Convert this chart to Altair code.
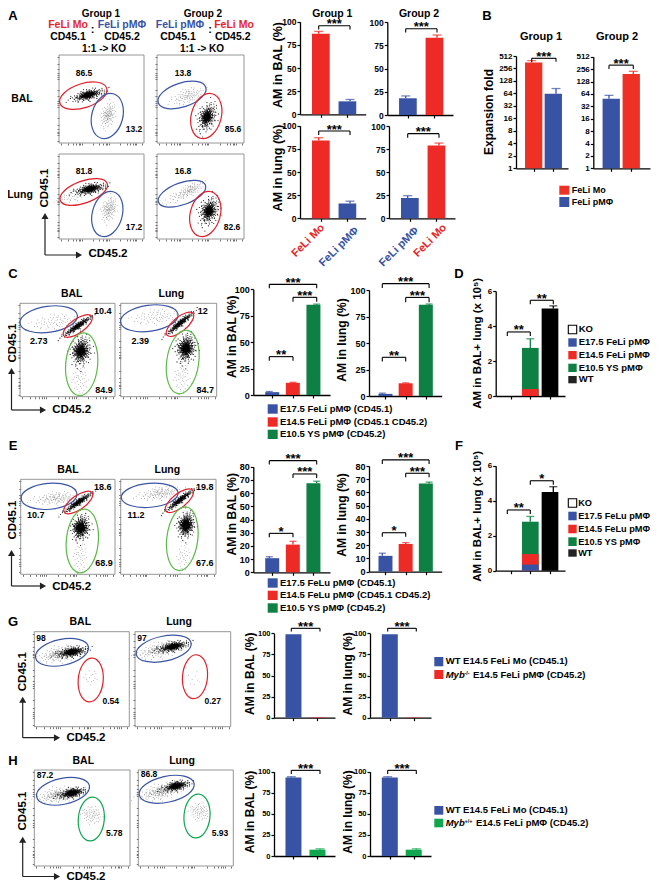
import math
import altair as alt

W, H, M = 643, 878, 8
FONT = "Liberation Sans"
RED, BLUE, GREEN, LGREEN, BLACK = "#EE2A26", "#3953A4", "#0F8044", "#10A650", "#000000"
TXT_RED, EGREEN, EBLUE = "#E8262A", "#5CB947", "#3B55A5"
ERED = "#E2202A"

# ---- bar values (mean, top of error bar)
A_BAL_1, A_BAL_1_E = [87, 14], [89.5, 16]
A_BAL_2, A_BAL_2_E = [18, 83], [20.5, 86]
A_LUNG_1, A_LUNG_1_E = [84, 16], [87, 18.5]
A_LUNG_2, A_LUNG_2_E = [22, 79], [24.5, 81.5]
B_1, B_1_E = [355, 63], [396, 84]
B_2, B_2_E = [49, 195], [59, 226]
C_BAL, C_BAL_E = [2.7, 11.5, 85.5], [3.3, 12, 86]
C_LUNG, C_LUNG_E = [2, 12, 86], [2.7, 12.4, 86.8]
E_BAL, E_BAL_E = [10.7, 21, 67.5], [11.8, 23.5, 69]
E_LUNG, E_LUNG_E = [12, 21, 66.8], [14, 22, 67.8]
G_BAL, G_LUNG = [99, 0.5], [99, 0.4]
H_BAL, H_BAL_E = [93, 7.5], [94, 8.5]
H_LUNG, H_LUNG_E = [93, 7.5], [94, 8.5]
D_RED, D_GREEN, D_GREEN_E, D_WT, D_WT_E = 0.4, 2.75, 3.27, 5.0, 5.15
F_BLUE, F_RED, F_GREEN, F_GREEN_E, F_WT, F_WT_E = 0.35, 0.95, 2.8, 3.1, 4.5, 4.8

TICKS_100 = [0, 25, 50, 75, 100]
TICKS_80 = [0, 10, 20, 30, 40, 50, 60, 70, 80]
TICKS_LOG = [1, 2, 4, 8, 16, 32, 64, 128, 256, 512]
TICKS_6 = [0, 2, 4, 6]

# hand-placed event pattern used for the flow-cytometry clouds
CLOUD = [(-0.3,0.2),(0.5,-0.4),(1.1,0.3),(-1.2,-0.5),(0.2,1.0),(-0.7,0.9),(0.9,-1.1),(1.6,0.6),(-1.7,0.1),(0.1,-0.2),
(-0.4,-1.2),(0.7,0.7),(-1.0,0.5),(1.3,-0.6),(-0.1,1.6),(0.4,0.3),(-0.6,-0.3),(0.0,-1.7),(2.0,-0.2),(-2.1,-0.4),
(0.8,0.1),(-0.2,-0.7),(1.0,1.2),(-1.3,1.1),(0.3,-0.9),(-0.9,-0.9),(0.6,1.4),(1.8,-0.9),(-1.6,0.8),(0.15,0.55),
(-0.45,0.6),(0.55,-0.8),(1.4,0.1),(-1.45,-0.1),(-0.05,0.15),(0.25,-0.45),(-0.8,0.15),(0.95,0.45),(-0.25,1.25),(0.35,-1.4),
(1.15,-0.25),(-1.1,-1.2),(1.55,1.05),(-1.9,0.75),(2.3,0.4),(-2.4,-0.1),(0.05,2.1),(-0.35,-2.0),(0.75,-1.7),(-0.85,1.6),
(0.45,0.85),(-0.55,-0.65),(0.65,-0.15),(-0.15,0.4),(1.25,0.8),(-1.25,0.25),(0.2,-1.1),(-0.65,1.25),(1.75,-0.35),(-1.55,-0.8),
(0.1,0.75),(-0.3,-0.35),(0.85,-0.6),(-0.95,-0.15),(0.35,1.25),(-0.1,-1.0),(1.05,-1.45),(-1.35,1.45),(0.6,0.35),(-0.5,0.1),
(2.6,-0.6),(-2.7,0.5),(1.9,0.9),(-2.0,-1.0),(0.9,1.75),(-0.7,-1.55),(0.0,0.0),(0.3,0.1),(-0.2,-0.15),(0.15,-0.6)]
SHRINK = [1.0, 0.72, 0.52, 0.38, 0.26, 0.6, 0.45, 0.32]
SIGNS = [(1, 1), (-1, 1), (1, -1), (-1, -1), (1, 1), (-1, 1), (1, -1), (-1, -1)]

ONE = alt.Data(values=[{"a": 1}])
layers, texts = [], []


def T(s, x, y, size=9.5, color="black", angle=0, align="center", weight="bold", style="normal"):
    texts.append(dict(t=s, x=x - M, y=y - M, size=size, color=color, angle=angle, align=align, weight=weight, fstyle=style))


def rect(x0, y0, x1, y1, color, stroke=None):
    kw = dict(color=color)
    if stroke:
        kw = dict(fill=color, stroke=stroke, strokeWidth=1.1)
    layers.append(alt.Chart(ONE).mark_rect(**kw).encode(
        x=alt.value(x0 - M), x2=alt.value(x1 - M), y=alt.value(y0 - M), y2=alt.value(y1 - M)))


def arrow(x, ybot, ytop, xright):
    c = "#222222"
    layers.append(alt.Chart(ONE).mark_rule(color=c, strokeWidth=1.2).encode(
        x=alt.value(x - M), y=alt.value(ybot - M), y2=alt.value(ytop - M + 4)))
    layers.append(alt.Chart(ONE).mark_rule(color=c, strokeWidth=1.2).encode(
        x=alt.value(x - M), x2=alt.value(xright - M - 4), y=alt.value(ybot - M)))
    layers.append(alt.Chart(ONE).mark_point(shape="triangle-up", filled=True, color=c, size=50, opacity=1).encode(
        x=alt.value(x - M), y=alt.value(ytop - M + 3)))
    layers.append(alt.Chart(ONE).mark_point(shape="triangle-right", filled=True, color=c, size=50, opacity=1).encode(
        x=alt.value(xright - M - 3), y=alt.value(ybot - M)))


def bars(x0, xe, y0, yt, dom, xs, w, segs, errs, ticks, brackets=(), fs=9, log=False, cap=9):
    c1, s = xs[0], xs[1] - xs[0]
    n = len(xs)
    sx = alt.Scale(domain=[1 + (x0 - c1) / s, 1 + (xe - c1) / s], range=[x0 - M, xe - M], nice=False, zero=False)
    ykw = dict(type="log", base=2) if log else dict(type="linear", zero=False)
    sy = alt.Scale(domain=dom, range=[y0 - M, yt - M], nice=False, **ykw)
    common = dict(grid=False, title=None, domainColor="black", domainWidth=1.3, tickColor="black",
                  tickWidth=1.2, tickSize=3)
    ax_y = alt.Axis(orient="left", offset=-(x0 - M), values=ticks, labelFont=FONT, labelFontWeight="bold",
                    labelFontSize=fs, labelColor="black", labelPadding=1, labelOverlap=False, format="d", **common)
    ax_x = alt.Axis(orient="bottom", offset=(y0 - M) - H, values=list(range(1, n + 1)), labels=False, **common)
    base = dom[0]
    rows = [dict(x=i, y=v, b=(b if b is not None else base), c=c) for (i, v, b, c) in segs]
    layers.append(alt.Chart(alt.Data(values=rows)).mark_bar(size=w, orient="vertical").encode(
        x=alt.X("x:Q", scale=sx, axis=ax_x), y=alt.Y("y:Q", scale=sy, axis=ax_y), y2="b:Q",
        color=alt.Color("c:N", scale=None)))
    if errs:
        rows = [dict(x=i, y=v, e=e, c=c) for (i, v, e, c) in errs]
        d = alt.Data(values=rows)
        layers.append(alt.Chart(d).mark_rule(strokeWidth=1.3).encode(
            x=alt.X("x:Q", scale=sx, axis=None), y=alt.Y("y:Q", scale=sy, axis=None), y2="e:Q",
            color=alt.Color("c:N", scale=None)))
        layers.append(alt.Chart(d).mark_tick(orient="horizontal", size=cap, thickness=1.3).encode(
            x=alt.X("x:Q", scale=sx, axis=None), y=alt.Y("e:Q", scale=sy, axis=None),
            color=alt.Color("c:N", scale=None)))
    if brackets:
        rows = [dict(a=a, b=b, m=(a + b) / 2, t=t, d=dd, s=st) for (a, b, t, dd, st) in brackets]
        d = alt.Data(values=rows)
        X, Y = (lambda f: alt.X(f, scale=sx, axis=None)), (lambda f: alt.Y(f, scale=sy, axis=None))
        layers.append(alt.Chart(d).mark_rule(color="black", strokeWidth=1.1).encode(x=X("a:Q"), x2="b:Q", y=Y("t:Q")))
        layers.append(alt.Chart(d).mark_rule(color="black", strokeWidth=1.1).encode(x=X("a:Q"), y=Y("t:Q"), y2="d:Q"))
        layers.append(alt.Chart(d).mark_rule(color="black", strokeWidth=1.1).encode(x=X("b:Q"), y=Y("t:Q"), y2="d:Q"))
        layers.append(alt.Chart(d).mark_text(font=FONT, fontWeight="bold", fontSize=13, color="black", baseline="middle",
                                             dy=-1.5).encode(x=X("m:Q"), y=Y("t:Q"), text="s:N"))


def simple(vals, errs, colors):
    segs = [(i + 1, v, None, c) for i, (v, c) in enumerate(zip(vals, colors))]
    er = [(i + 1, v, e, c) for i, (v, e, c) in enumerate(zip(vals, errs, colors))] if errs else []
    return segs, er


TICKF_X = [0.02, 0.1, 0.16, 0.2, 0.23, 0.25, 0.27, 0.4, 0.47, 0.52, 0.55, 0.57, 0.59, 0.72, 0.8, 0.84, 0.87, 0.89, 0.91, 0.98]


def ell_path(a, b):
    k = 0.5523
    return (f"M{-a},0C{-a},{-k*b:.2f} {-k*a:.2f},{-b} 0,{-b}C{k*a:.2f},{-b} {a},{-k*b:.2f} {a},0"
            f"C{a},{k*b:.2f} {k*a:.2f},{b} 0,{b}C{-k*a:.2f},{b} {-a},{k*b:.2f} {-a},0Z")


def facs(box, ells, clusters):
    x0, y0, x1, y1 = box
    sx = alt.Scale(domain=[x0, x1], range=[x0 - M, x1 - M], nice=False, zero=False)
    sy = alt.Scale(domain=[y0, y1], range=[y0 - M, y1 - M], nice=False, zero=False)
    common = dict(grid=False, title=None, domain=False, labels=False, tickColor="#333333", tickWidth=0.7, tickSize=2)
    ax_x = alt.Axis(orient="bottom", offset=(y1 - M) - H, values=[x0 + (x1 - x0) * f for f in TICKF_X], **common)
    ax_y = alt.Axis(orient="left", offset=-(x0 - M), values=[y0 + (y1 - y0) * f for f in TICKF_X], **common)
    layers.append(alt.Chart(alt.Data(values=[dict(a=x0, b=x1, c=y0, d=y1)])).mark_rect(
        fillOpacity=0, stroke="#8a8a8a", strokeWidth=0.9).encode(
        x=alt.X("a:Q", scale=sx, axis=ax_x), x2="b:Q", y=alt.Y("c:Q", scale=sy, axis=ax_y), y2="d:Q"))
    sparse, dense = [], []
    for (cx, cy, sa, sb, ang, n) in clusters:
        r = math.radians(ang)
        co, si = math.cos(r), math.sin(r)
        out = dense if n > 200 else sparse
        for i in range(n):
            u, v = CLOUD[i % len(CLOUD)]
            lv = i // len(CLOUD)
            sc = SHRINK[lv % len(SHRINK)]
            fx, fy = SIGNS[lv % len(SIGNS)]
            u, v = u * sc * fx, v * sc * fy
            out.append(dict(x=round(cx + u * sa * co - v * sb * si, 1), y=round(cy + u * sa * si + v * sb * co, 1)))
    for pts, sz, col, op in ((sparse, 0.9, "#555555", 0.75), (dense, 1.5, "#000000", 0.85)):
        if pts:
            layers.append(alt.Chart(alt.Data(values=pts)).mark_circle(size=sz, color=col, opacity=op).encode(
                x=alt.X("x:Q", scale=sx, axis=None), y=alt.Y("y:Q", scale=sy, axis=None)))
    for (cx, cy, a, b, ang, col) in ells:
        layers.append(alt.Chart(alt.Data(values=[dict(x=cx, y=cy)])).mark_point(
            shape=ell_path(a, b), size=4, angle=ang % 360, filled=False, stroke=col, strokeWidth=1.2, opacity=1).encode(
            x=alt.X("x:Q", scale=sx, axis=None), y=alt.Y("y:Q", scale=sy, axis=None)))


# ---------------- panel letters
for s, x, y in [("A", 13, 16), ("B", 487, 16), ("C", 13, 274), ("D", 459, 274), ("E", 13, 446), ("F", 459, 446), ("G", 13, 622), ("H", 13, 761)]:
    T(s, x, y, size=13)

# ---------------- panel A, flow plots
T("Group 1", 101, 14, 10); T("Group 2", 203, 14, 10)
T("FeLi Mo", 68, 25, 10.5, TXT_RED); T("FeLi pMΦ", 122, 25, 10.5, BLUE); T(":", 92.7, 30, 11)
T("CD45.1", 68, 37, 10.5); T("CD45.2", 122, 37, 10.5); T("1:1 -> KO", 104, 49, 10)
T("FeLi pMΦ", 180, 25, 10.5, BLUE); T("FeLi Mo", 234, 25, 10.5, TXT_RED); T(":", 210, 30, 11)
T("CD45.1", 178, 37, 10.5); T("CD45.2", 232.7, 37, 10.5); T("1:1 -> KO", 202, 49, 10)
T("BAL", 22, 99, 10.5); T("Lung", 20, 195, 10.5)

facs((59, 55, 144, 143),
     [(83.3, 95.7, 24.6, 12, -18, ERED), (107.3, 116, 23, 15.5, -75, EBLUE)],
     [(88, 95, 8.5, 3.2, -15, 400), (108, 115, 6, 3.8, -75, 120)])
facs((157, 55, 244, 143),
     [(182, 95, 25, 12, -18, EBLUE), (206.3, 116, 23, 15, -75, ERED)],
     [(188, 96, 8, 4, -18, 100), (207, 117, 7.5, 5.5, -70, 400)])
facs((59, 154, 144, 239),
     [(83.7, 192, 25, 11, -20, ERED), (107.3, 214, 23, 15, -75, EBLUE)],
     [(90, 189, 8, 3.2, -12, 400), (75, 195, 9, 3, -20, 60), (109, 209, 6, 4, -75, 130)])
facs((157, 154, 244, 239),
     [(182, 193.7, 25, 11, -20, EBLUE), (205.3, 214, 23, 15, -75, ERED)],
     [(190, 190, 7, 3, -25, 100), (175, 198, 8, 3, -20, 25), (209, 211, 7.5, 6, -70, 400)])
for s, x, y in [("86.5", 84, 73), ("13.2", 134, 129), ("13.8", 183, 73), ("85.6", 233, 129),
                ("81.8", 84, 171), ("17.2", 134, 227), ("16.8", 183, 171), ("82.6", 232, 227)]:
    T(s, x, y, 8.5)
T("CD45.1", 45, 188, 11.5, angle=270)
arrow(45, 255, 213, 82)
T("CD45.2", 108, 254, 11.5)

# ---------------- panel A, bars
T("Group 1", 332.3, 14, 10.5); T("Group 2", 419, 14, 10.5)
T("AM in BAL (%)", 278, 65, 12.5, angle=270); T("AM in lung (%)", 278, 168, 12.5, angle=270)
s, e = simple(A_BAL_1, A_BAL_1_E, [RED, BLUE])
bars(300, 365.7, 114.3, 21.7, [0, 100], [318.7, 350], 17.7, s, e, TICKS_100, [(1, 2, 95.7, 91.7, "***")], 8.5)
s, e = simple(A_BAL_2, A_BAL_2_E, [BLUE, RED])
bars(387.3, 453, 115, 22, [0, 100], [405.7, 437], 17.7, s, e, TICKS_100, [(1, 2, 92.8, 88.8, "***")], 8.5)
s, e = simple(A_LUNG_1, A_LUNG_1_E, [RED, BLUE])
bars(300, 365.7, 218.3, 125.7, [0, 100], [318.7, 350], 17.7, s, e, TICKS_100, [(1, 2, 94.2, 89.9, "***")], 8.5)
s, e = simple(A_LUNG_2, A_LUNG_2_E, [BLUE, RED])
bars(389, 455, 218.3, 126, [0, 100], [407.7, 439], 17.7, s, e, TICKS_100, [(1, 2, 91.7, 87.4, "***")], 8.5)
T("FeLi Mo", 323, 226, 11, TXT_RED, 315, "right"); T("FeLi pMΦ", 357, 229, 11, BLUE, 315, "right")
T("FeLi pMΦ", 417, 229, 11, BLUE, 315, "right"); T("FeLi Mo", 445, 226, 11, TXT_RED, 315, "right")

# ---------------- panel B
T("Group 1", 541, 37, 11); T("Group 2", 617, 37, 11)
T("Expansion fold", 489, 112, 12, angle=270)
s, e = simple(B_1, B_1_E, ["#EE3124", BLUE])
bars(516, 568, 168.3, 56, [1, 512], [531.7, 556], 17.3, s, e, TICKS_LOG, [(1, 2, 2 ** 9 * 0.88, 2 ** 9 * 0.73, "***")], 8, True)
s, e = simple(B_2, B_2_E, [BLUE, "#EE3124"])
bars(593.3, 650, 168.3, 56.7, [1, 512], [609, 633.3], 17.3, s, e, TICKS_LOG, [(1, 2, 2 ** 8.32, 2 ** 8.0, "***")], 8, True)
rect(559.3, 185.7, 569.3, 194.7, "#EE3124"); rect(559.3, 197, 569.3, 207, BLUE)
T("FeLi Mo", 571.7, 190, 9, align="left"); T("FeLi pMΦ", 571.7, 202, 9, align="left")

# ---------------- panels C and E
T("BAL", 71.7, 294, 10.5); T("Lung", 171.3, 294, 10.5)
facs((20, 303.3, 115, 396.7),
     [(48.7, 319.3, 29, 13, -8, EBLUE), (77.7, 326, 17, 7, -35, ERED), (81.7, 364.3, 31.5, 16, -85, EGREEN)],
     [(55, 321.7, 11, 4, -5, 70), (77.7, 326, 9, 1.8, -35, 240), (81, 351, 7.5, 6.5, -80, 480), (80, 380, 8, 4, -88, 50)])
facs((120.7, 303.3, 216.7, 396.7),
     [(149.3, 318.3, 29, 13, -8, EBLUE), (180, 324.3, 17, 7, -40, ERED), (182.7, 362, 32, 16, -82, EGREEN)],
     [(155, 316.7, 11, 4, -5, 70), (180, 323.3, 9, 1.8, -40, 240), (186, 348.3, 7.5, 6.5, -80, 480), (181.7, 378, 8, 4, -85, 50)])
for s, x, y in [("10.4", 102.7, 310.7), ("2.73", 38.7, 340.7), ("84.9", 104, 390), ("12", 202.7, 310.7),
                ("2.39", 140.3, 340.7), ("84.7", 205.3, 390)]:
    T(s, x, y, 9)
T("CD45.1", 13, 343, 11.5, angle=270)
arrow(11.5, 410, 368, 46)
T("CD45.2", 71.7, 410, 11.5)

TRI = [BLUE, RED, GREEN]
XC_B = [269.3, 293, 316.7]
XC_L = [382.3, 405.7, 429.3]
T("AM in BAL (%)", 232.3, 336.7, 12, angle=270); T("AM in lung (%)", 341.7, 340, 12, angle=270)
s, e = simple(C_BAL, C_BAL_E, TRI)
bars(253.3, 330, 395, 289.3, [0, 100], XC_B, 14, s, e, TICKS_100,
     [(1, 2, 36.3, 32.5, "**"), (2, 3, 92.4, 88.3, "***"), (1, 3, 104.7, 101, "***")], 9, cap=7)
s, e = simple(C_LUNG, C_LUNG_E, TRI)
bars(369, 441.7, 396, 290, [0, 100], XC_L, 14, s, e, TICKS_100,
     [(1, 2, 36.5, 32.5, "**"), (2, 3, 93, 88.5, "***"), (1, 3, 106, 102, "***")], 9, cap=7)
for (a, b), c in zip([(404.3, 413.7), (417.3, 426.7), (429.7, 439)], TRI):
    rect(267.7, a, 277.7, b, c)
T("E17.5 FeLi pMΦ (CD45.1)", 280, 409, 9.5, align="left")
T("E14.5 FeLi pMΦ (CD45.1 CD45.2)", 280, 422, 9.5, align="left")
T("E10.5 YS pMΦ (CD45.2)", 280, 434.3, 9.5, align="left")

XC_D = [507.3, 530.3, 553.7]
T("AM in BAL+ lung (x 10⁵)", 478.3, 343.3, 11.5, angle=270)
bars(495.7, 565, 396, 291, [0, 6], XC_D, 16.7,
     [(2, D_GREEN, None, GREEN), (2, D_RED, None, RED), (3, D_WT, None, BLACK)],
     [(2, D_GREEN, D_GREEN_E, GREEN), (3, D_WT, D_WT_E, BLACK)], TICKS_6,
     [(1, 2, 3.66, 3.43, "**"), (2, 3, 5.47, 5.24, "**")], 8, cap=8)
LG = [(325.3, 333.7), (338.3, 346.7), (351, 359.3), (363.7, 372), (376, 383.3)]
rect(568.3, LG[0][0], 576.7, LG[0][1], "#ffffff", "#000000")
for (a, b), c in zip(LG[1:], [BLUE, RED, GREEN, "#222222"]):
    rect(568.3, a, 576.7, b, c)
for lab, y in zip(["KO", "E17.5 FeLi pMΦ", "E14.5 FeLi pMΦ", "E10.5 YS pMΦ", "WT"], [329, 342.3, 355, 367.7, 379.3]):
    T(lab, 578.7, y, 9.5, align="left")

T("BAL", 68, 470, 10.5); T("Lung", 167.3, 470, 10.5)
facs((20.7, 479.3, 115, 574.3),
     [(49, 496.3, 28, 13, -5, EBLUE), (78.3, 502.5, 17, 7, -35, ERED), (82.3, 541, 32, 16, -85, EGREEN)],
     [(56.7, 498.3, 11, 3.5, -5, 130), (78.3, 502.3, 9, 1.8, -35, 240), (80.7, 527.7, 6.5, 6, -80, 480), (80, 556.7, 8, 4, -88, 45)])
facs((120.7, 479.3, 216, 574.3),
     [(149.7, 495.3, 28.5, 12, -5, EBLUE), (179.3, 500.7, 17, 7, -38, ERED), (182.3, 538.7, 32, 15.5, -83, EGREEN)],
     [(160, 493.3, 10, 3.5, -8, 130), (180, 500, 9, 1.8, -38, 240), (186, 525, 6.5, 5.5, -80, 480), (183.3, 556.7, 8, 4, -85, 35)])
for s, x, y in [("18.6", 102.7, 487.3), ("10.7", 35.7, 515), ("68.9", 104, 563.3), ("19.8", 204.7, 487.3),
                ("11.2", 136, 515), ("67.6", 204.7, 563.3)]:
    T(s, x, y, 9)
T("CD45.1", 13, 520, 11.5, angle=270)
arrow(11.5, 586, 550, 46)
T("CD45.2", 71.7, 586.7, 11.5)

T("AM in BAL (%)", 232.3, 514.3, 12, angle=270); T("AM in lung (%)", 341.7, 515, 12, angle=270)
s, e = simple(E_BAL, E_BAL_E, TRI)
bars(253.3, 330, 572.3, 466.7, [0, 80], XC_B, 14, s, e, TICKS_80,
     [(1, 2, 29.5, 26.5, "*"), (2, 3, 74.5, 71.5, "***"), (1, 3, 84.6, 81.6, "***")], 9, cap=7)
s, e = simple(E_LUNG, E_LUNG_E, TRI)
bars(369, 441.7, 571.7, 466, [0, 80], XC_L, 14, s, e, TICKS_80,
     [(1, 2, 29.5, 26.5, "*"), (2, 3, 74.5, 71.5, "***"), (1, 3, 84.6, 81.6, "***")], 9, cap=7)
for (a, b), c in zip([(578.3, 587.7), (590.7, 600), (603.3, 612.7)], TRI):
    rect(267.7, a, 277.7, b, c)
T("E17.5 FeLu pMΦ (CD45.1)", 280, 582.7, 9.5, align="left")
T("E14.5 FeLu pMΦ (CD45.1 CD45.2)", 280, 595.3, 9.5, align="left")
T("E10.5 YS pMΦ (CD45.2)", 280, 608, 9.5, align="left")

T("AM in BAL+ lung (x 10⁵)", 478.3, 516.3, 11.5, angle=270)
bars(495.7, 565, 570.7, 465.7, [0, 6], XC_D, 16.7,
     [(2, F_GREEN, None, GREEN), (2, F_RED, None, RED), (2, F_BLUE, None, BLUE), (3, F_WT, None, BLACK)],
     [(2, F_GREEN, F_GREEN_E, GREEN), (3, F_WT, F_WT_E, BLACK)], TICKS_6,
     [(1, 2, 3.47, 3.24, "**"), (2, 3, 5.14, 4.91, "*")], 8, cap=8)
LG = [(498.7, 507.3), (511.7, 520.3), (524.7, 533.3), (537.3, 546), (549.3, 556.7)]
rect(568.3, LG[0][0], 576.7, LG[0][1], "#ffffff", "#000000")
for (a, b), c in zip(LG[1:], [BLUE, RED, GREEN, "#222222"]):
    rect(568.3, a, 576.7, b, c)
for lab, y in zip(["KO", "E17.5 FeLu pMΦ", "E14.5 FeLu pMΦ", "E10.5 YS pMΦ", "WT"], [502.7, 516, 528.7, 541.7, 553]):
    T(lab, 578.2, y, 9.2, align="left")

# ---------------- panels G and H
T("BAL", 80.3, 622, 10.5); T("Lung", 179, 622, 10.5)
facs((34.3, 631.7, 129.3, 726.7),
     [(62, 652.3, 27, 13, -12, EBLUE), (90.7, 680, 22, 12.5, -85, ERED)],
     [(72, 652, 8, 3.2, -10, 400), (60, 654, 11, 4.5, -10, 200), (90.7, 676.7, 4, 5, 0, 15)])
facs((135, 631.7, 230.7, 726.7),
     [(163.7, 648.7, 28, 12.5, -12, EBLUE), (195, 676.7, 22, 12.5, -85, ERED)],
     [(173, 646.5, 8, 3, -12, 400), (160, 650, 12, 4.5, -12, 200), (193.3, 678.3, 4, 6, 0, 8)])
for s, x, y, z in [("98", 41, 638.3, 8.5), ("0.54", 110.7, 700.7, 8.5), ("97", 142, 638.3, 8.5), ("0.27", 212.7, 700.7, 8.5)]:
    T(s, x, y, z)
T("CD45.1", 23.3, 671.7, 11.5, angle=270)
arrow(22.7, 737.7, 696.7, 60)
T("CD45.2", 86, 738.3, 11.5)

T("AM in BAL (%)", 250, 673.8, 12, angle=270); T("AM in lung (%)", 348.3, 673.8, 12, angle=270)
XG_B, XG_L = [291.3, 320], [387.7, 416.3]
s, e = simple(G_BAL, None, [BLUE, RED])
bars(274, 335, 717.7, 633.3, [0, 100], XG_B, 16, s, e, TICKS_100, [(1, 2, 105.9, 102, "***")], 7.5)
s, e = simple(G_LUNG, None, [BLUE, RED])
bars(370, 431, 717.7, 633.3, [0, 100], XG_L, 16, s, e, TICKS_100, [(1, 2, 105.9, 102, "***")], 7.5)
rect(434.3, 657, 443.3, 666.3, BLUE); rect(434.3, 670, 443.3, 679, RED)
T("WT E14.5 FeLi Mo (CD45.1)", 445.7, 661.3, 9.5, align="left")
T("Myb", 445.7, 675, 9.5, align="left", style="italic")
T("-/-", 464.5, 672.5, 5.5, align="left")
T("E14.5 FeLi pMΦ (CD45.2)", 473, 675, 9.5, align="left")

T("BAL", 83.3, 761, 10.5); T("Lung", 182, 761, 10.5)
facs((34.3, 770, 130, 866),
     [(63, 791.3, 27, 13, -12, EBLUE), (91.3, 819, 22, 13, -85, LGREEN)],
     [(72, 793, 7, 3, -12, 400), (58, 795, 11, 4.5, -10, 200), (91.7, 815, 4, 5.5, -80, 70)])
facs((138.3, 770, 233.3, 866),
     [(166.7, 789.3, 28, 13, -12, EBLUE), (197, 816, 22, 13, -85, LGREEN)],
     [(176, 786, 7, 3, -12, 400), (160, 792, 11, 4.5, -12, 200), (199.3, 811.7, 4, 5.5, -80, 70)])
for s, x, y in [("87.2", 45, 775), ("5.78", 114.3, 833.3), ("86.8", 149, 774), ("5.93", 220, 833.3)]:
    T(s, x, y, 8.5)
T("CD45.1", 23.3, 811, 11.5, angle=270)
arrow(22.7, 876.5, 836.7, 60)
T("CD45.2", 86, 877, 11.5)

T("AM in BAL (%)", 250, 812, 12, angle=270); T("AM in lung (%)", 348.3, 812, 12, angle=270)
s, e = simple(H_BAL, H_BAL_E, [BLUE, LGREEN])
bars(274, 335, 856, 771.7, [0, 100], XG_B, 16, s, e, TICKS_100, [(1, 2, 101.6, 97.2, "***")], 7.5)
s, e = simple(H_LUNG, H_LUNG_E, [BLUE, LGREEN])
bars(370, 431, 856, 771.7, [0, 100], XG_L, 16, s, e, TICKS_100, [(1, 2, 101.6, 97.2, "***")], 7.5)
rect(434.3, 806, 443.3, 814.7, BLUE); rect(434.3, 818.7, 443.3, 827.3, LGREEN)
T("WT E14.5 FeLi Mo (CD45.1)", 445.7, 809.7, 9.5, align="left")
T("Myb", 445.7, 823, 9.5, align="left", style="italic")
T("+/+", 464.5, 820.5, 5.5, align="left")
T("E14.5 FeLi pMΦ (CD45.2)", 476, 823, 9.5, align="left")

# ---------------- all the text, grouped by style
groups = {}
for t in texts:
    k = (t["size"], t["color"], t["angle"], t["align"], t["weight"], t["fstyle"])
    groups.setdefault(k, []).append(dict(t=t["t"], x=t["x"], y=t["y"]))
for (size, color, angle, align, weight, fstyle), rows in groups.items():
    layers.append(alt.Chart(alt.Data(values=rows)).mark_text(
        font=FONT, fontSize=size, color=color, angle=angle, align=align, fontWeight=weight, fontStyle=fstyle,
        baseline="middle").encode(
        x=alt.X("x:Q", scale=None, axis=None), y=alt.Y("y:Q", scale=None, axis=None), text="t:N"))

chart = alt.layer(*layers).resolve_scale(x="independent", y="independent").resolve_axis(
    x="independent", y="independent").properties(
    width=W, height=H, padding=0, autosize=alt.AutoSizeParams(type="none", contains="padding"),
    background="white").configure_view(stroke=None)

chart.save("out.html", embed_options={"renderer": "svg", "actions": False})
